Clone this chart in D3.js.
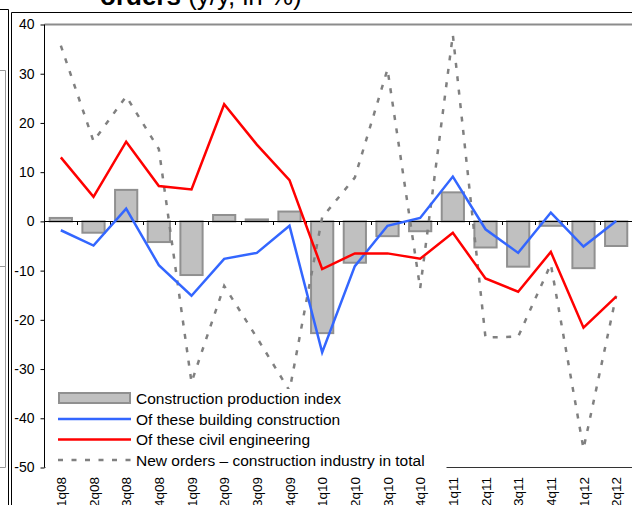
<html>
<head>
<meta charset="utf-8">
<script src="https://d3js.org/d3.v7.min.js"></script>
<style>
    body { margin: 0; background: #fff; }
    text { font-family: "Liberation Sans", Arial, sans-serif; fill: #000; }
</style>
</head>
<body>
<svg id="chart" width="632" height="505"></svg>
<script>
    // quarters on the x axis
    const quarters = ['1q08','2q08','3q08','4q08','1q09','2q09','3q09','4q09','1q10',
                      '2q10','3q10','4q10','1q11','2q11','3q11','4q11','1q12','2q12'];
    // bars: construction production index
    const production = [0.7, -2.3, 6.4, -4.2, -10.9, 1.3, 0.4, 2.0, -22.7,
                        -8.4, -3.0, -2.0, 5.9, -5.3, -9.2, -0.9, -9.5, -5.0];
    const building = [-1.8, -4.9, 2.6, -8.9, -15.1, -7.6, -6.4, -0.9, -26.6,
                      -9.1, -0.9, 0.7, 9.1, -1.6, -6.4, 1.8, -5.1, 0.1];
    const civil = [13.0, 5.0, 16.2, 7.2, 6.5, 23.8, 15.6, 8.4, -9.7,
                   -6.5, -6.5, -7.6, -2.3, -11.6, -14.3, -6.2, -21.6, -15.3];
    const newOrders = [35.7, 16.3, 25.4, 14.7, -32.7, -13.1, -23.6, -34.4, 0.8,
                       8.9, 30.9, -13.6, 37.9, -23.6, -23.4, -8.7, -46.2, -15.1];
    const yTicks = [40, 30, 20, 10, 0, -10, -20, -30, -40, -50];
    const legendLabels = ['Construction production index', 'Of these building construction',
                          'Of these civil engineering', 'New orders \u2013 construction industry in total'];

    const svg = d3.select('#chart');

    // frames from the page layout
    svg.append('path').attr('d', 'M0,9.5H8.5V505').attr('fill', 'none').attr('stroke', '#000');
    svg.append('path').attr('d', 'M0,70.5H5.5V467.5H0').attr('fill', 'none').attr('stroke', '#999');
    svg.append('path').attr('d', 'M0,266.5H5.5V270').attr('fill', 'none').attr('stroke', '#999');
    svg.append('path').attr('d', 'M11.5,505V12.5H632').attr('fill', 'none').attr('stroke', '#000');

    // title (top part cut off)
    const title = svg.append('text').attr('x', 100).attr('y', 5).style('font-size', '26px');
    title.append('tspan').style('font-weight', 'bold').text('orders');
    title.append('tspan').text(' (y/y, in %)');

    const x = d3.scaleBand().domain(quarters).range([44.5, 632.5]).paddingInner(0.32).paddingOuter(0.16);
    const y = d3.scaleLinear().domain([-50, 40]).range([467.5, 24.5]);
    const cx = d => x(d) + x.bandwidth() / 2;

    // plot area border top / bottom
    svg.append('line').attr('x1', 44.5).attr('x2', 632).attr('y1', 24.5).attr('y2', 24.5)
        .attr('stroke', '#8c8c8c').attr('stroke-width', 2);
    svg.append('line').attr('x1', 44.5).attr('x2', 632).attr('y1', y(-50)).attr('y2', y(-50))
        .attr('stroke', '#333').attr('stroke-width', 1);

    // category ticks on the zero line
    svg.append('g').selectAll('line')
        .data(quarters.slice(1))
        .join('line')
        .attr('x1', d => Math.round(x(d) - x.step() * x.paddingInner() / 2) + 0.5)
        .attr('x2', d => Math.round(x(d) - x.step() * x.paddingInner() / 2) + 0.5)
        .attr('y1', Math.round(y(0))).attr('y2', Math.round(y(0)) + 4)
        .attr('stroke', '#000');

    // bars
    svg.append('g').selectAll('rect')
        .data(quarters)
        .join('rect')
        .attr('x', d => x(d))
        .attr('width', x.bandwidth())
        .attr('y', (d, i) => y(Math.max(0, production[i])))
        .attr('height', (d, i) => Math.abs(y(production[i]) - y(0)))
        .attr('fill', '#c0c0c0')
        .attr('stroke', '#909090')
        .attr('stroke-width', 2);

    // zero line
    svg.append('line').attr('x1', 44.5).attr('x2', 632).attr('y1', Math.round(y(0)) + 0.5).attr('y2', Math.round(y(0)) + 0.5)
        .attr('stroke', '#000');

    const line = d3.line().x(d => cx(d[0])).y(d => y(d[1]));
    const series = [
        { values: newOrders, color: '#808080', dash: '5,8.5' },
        { values: building, color: '#3366ff', dash: null },
        { values: civil, color: '#ff0000', dash: null }
    ];
    series.forEach(s => {
        svg.append('path')
            .datum(quarters.map((q, i) => [q, s.values[i]]))
            .attr('d', line)
            .attr('fill', 'none')
            .attr('stroke', s.color)
            .attr('stroke-width', 2.5)
            .attr('stroke-dasharray', s.dash);
    });

    // legend box, covers the lower left of the plot
    svg.append('rect').attr('x', 45.5).attr('y', 389).attr('width', 401).attr('height', 82).attr('fill', '#fff');
    const lg = svg.append('g');
    const rowY = [398, 419, 439.5, 460];
    lg.append('rect').attr('x', 59).attr('y', 393).attr('width', 71).attr('height', 10)
        .attr('fill', '#c0c0c0').attr('stroke', '#909090').attr('stroke-width', 2);
    [[series[1], 1], [series[2], 2], [series[0], 3]].forEach(([s, r]) => {
        lg.append('line').attr('x1', 58).attr('x2', 131).attr('y1', rowY[r]).attr('y2', rowY[r])
            .attr('stroke', s.color).attr('stroke-width', 2.5).attr('stroke-dasharray', s.dash);
    });
    lg.selectAll('text')
        .data(legendLabels)
        .join('text')
        .attr('x', 136)
        .attr('y', (d, i) => rowY[i] + 5.5)
        .style('font-size', '15.5px')
        .text(d => d);

    // y axis
    const yAxis = svg.append('g').attr('transform', 'translate(44.5,0)')
        .call(d3.axisLeft(y).tickValues(yTicks).tickSize(4).tickPadding(6).tickFormat(d => String(d)));
    yAxis.select('.domain').attr('d', `M0,${y(40)}V${y(-50)}`);
    yAxis.selectAll('text').style('font-size', '14px').style('font-family', '"Liberation Sans", Arial, sans-serif');

    // x labels
    svg.append('g').selectAll('text')
        .data(quarters)
        .join('text')
        .attr('transform', d => `translate(${cx(d) + 5},477) rotate(-90)`)
        .attr('text-anchor', 'end')
        .style('font-size', '13.5px')
        .text(d => d);
</script>
</body>
</html>
